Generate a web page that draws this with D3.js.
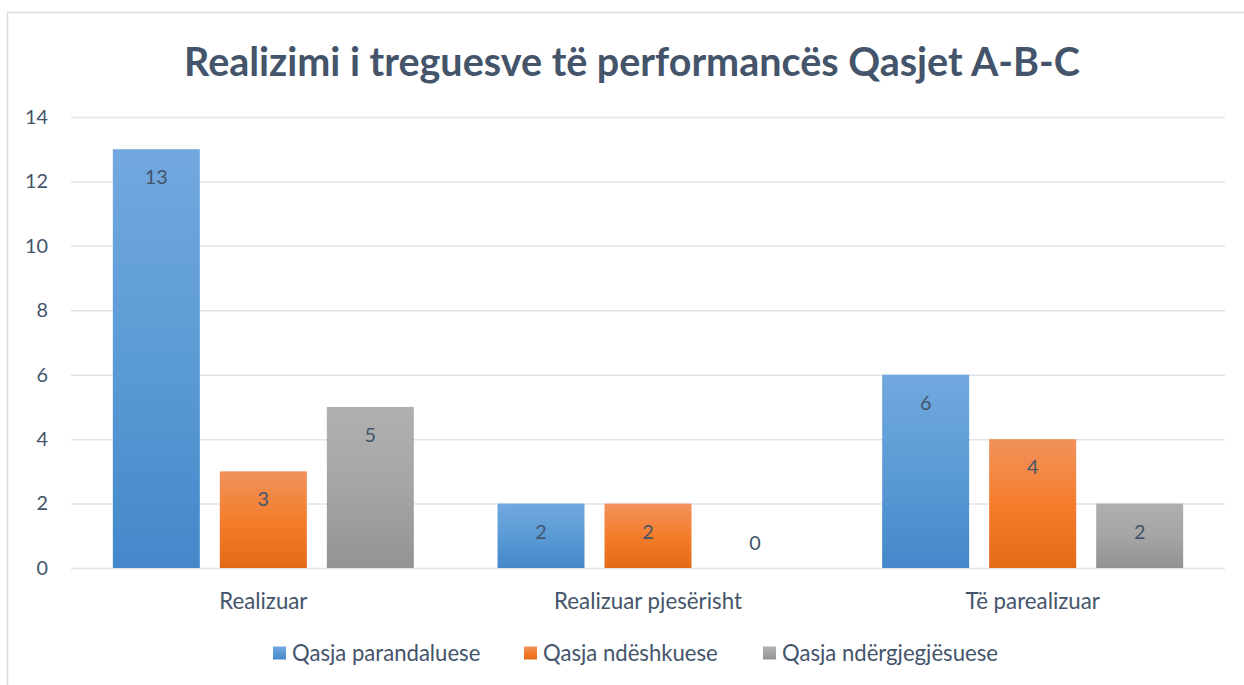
<!DOCTYPE html>
<html>
<head>
<meta charset="utf-8">
<script src="https://cdn.jsdelivr.net/npm/d3@7"></script>
<style>
    body{ margin:0; background:#fff; }
    text{ font-family: Lato, "Open Sans", sans-serif; fill:#44546A; }
</style>
</head>
<body>
<svg id="chart" width="1244" height="685"></svg>
<script>
const title = 'Realizimi i treguesve të performancës Qasjet A-B-C';
const categories = ['Realizuar', 'Realizuar pjesërisht', 'Të parealizuar'];
const seriesNames = ['Qasja parandaluese', 'Qasja ndëshkuese', 'Qasja ndërgjegjësuese'];
const parandaluese = [13, 2, 6];
const ndeshkuese = [3, 2, 4];
const ndergjegjesuese = [5, 0, 2];
const yTicks = [0, 2, 4, 6, 8, 10, 12, 14];

const seriesValues = [parandaluese, ndeshkuese, ndergjegjesuese];
const gradients = [
    ['#72A8DF', '#5B9BD5', '#4488CA'],
    ['#F1925C', '#F47D2C', '#E46B16'],
    ['#B0B0B0', '#A5A5A5', '#939393']
];

const svg = d3.select('#chart');
const margin = {l: 71, r: 19, t: 117, b: 117};
const size = {w: 1244, h: 685};
const chartSize = {w: size.w - margin.l - margin.r, h: size.h - margin.t - margin.b};

//fit font size so a reference string has the target width
function fitSize(str, weight, target){
    let t = svg.append('text').style('font-size', '100px').style('font-weight', weight).text(str);
    let w = t.node().getComputedTextLength();
    t.remove();
    return 100 * target / w;
}

//chart border
svg.append('rect')
    .attr('x', 7.5).attr('y', 12.5)
    .attr('width', 1300).attr('height', 700)
    .attr('fill', 'none')
    .attr('stroke', '#D9DDE3')
    .attr('stroke-width', 1.5);

//gradients
let defs = svg.append('defs');
gradients.forEach((g, i) => {
    let lg = defs.append('linearGradient')
        .attr('id', 'grad' + i)
        .attr('x1', 0).attr('y1', 0).attr('x2', 0).attr('y2', 1);
    lg.append('stop').attr('offset', '0%').attr('stop-color', g[0]);
    lg.append('stop').attr('offset', '50%').attr('stop-color', g[1]);
    lg.append('stop').attr('offset', '100%').attr('stop-color', g[2]);
});

//title
svg.append('text')
    .attr('x', 632)
    .attr('y', 76)
    .style('text-anchor', 'middle')
    .style('font-weight', '700')
    .style('font-size', fitSize(title, 700, 896) + 'px')
    .text(title);

let g = svg.append('g').attr('transform', `translate(${margin.l}, ${margin.t})`);

//scales
let scaleX = d3.scaleBand()
    .domain(categories)
    .range([0, chartSize.w]);

let scaleSeries = d3.scaleBand()
    .domain(d3.range(seriesNames.length))
    .range([0, scaleX.bandwidth()])
    .paddingInner(0.187)
    .paddingOuter(0.391);

let scaleY = d3.scaleLinear()
    .domain([0, 14])
    .range([chartSize.h, 0]);

//grid + y axis
let tickSize = fitSize('14', 400, 23);
let axisY = d3.axisLeft(scaleY).tickValues(yTicks).tickSize(-chartSize.w).tickPadding(23);
let axisG = g.append('g').call(axisY);
axisG.select('.domain').remove();
axisG.selectAll('line').attr('stroke', '#E0E3E8').attr('stroke-width', 1.5);
axisG.selectAll('text')
    .style('font-size', tickSize + 'px')
    .style('font-family', 'Lato, sans-serif')
    .attr('fill', '#44546A');

//bars
let rows = [];
categories.forEach((c, ci) => {
    seriesValues.forEach((vals, si) => rows.push({cat: c, s: si, v: vals[ci]}));
});

g.selectAll('rect.bar')
    .data(rows)
    .join('rect')
    .attr('class', 'bar')
    .attr('x', d => scaleX(d.cat) + scaleSeries(d.s))
    .attr('y', d => scaleY(d.v))
    .attr('width', scaleSeries.bandwidth())
    .attr('height', d => chartSize.h - scaleY(d.v))
    .attr('fill', d => `url(#grad${d.s})`);

//value labels
let valueSize = fitSize('13', 400, 23);
g.selectAll('text.value')
    .data(rows)
    .join('text')
    .attr('class', 'value')
    .attr('x', d => scaleX(d.cat) + scaleSeries(d.s) + scaleSeries.bandwidth() / 2)
    .attr('y', d => d.v > 0 ? scaleY(d.v) + 28 : scaleY(0) - 25)
    .attr('dy', '0.35em')
    .style('text-anchor', 'middle')
    .style('font-size', valueSize + 'px')
    .text(d => d.v);

//category labels
let catSize = fitSize('Realizuar pjesërisht', 400, 188);
g.selectAll('text.cat')
    .data(categories)
    .join('text')
    .attr('class', 'cat')
    .attr('x', d => scaleX(d) + scaleX.bandwidth() / 2)
    .attr('y', chartSize.h + 33)
    .attr('dy', '0.35em')
    .style('text-anchor', 'middle')
    .style('font-size', catSize + 'px')
    .text(d => d);

//legend
let legendSize = fitSize('Qasja ndërgjegjësuese', 400, 216);
let legendX = [273, 524, 763];
let legend = svg.selectAll('g.legend')
    .data(seriesNames)
    .join('g')
    .attr('class', 'legend')
    .attr('transform', (d, i) => `translate(${legendX[i]}, 653)`);

legend.append('rect')
    .attr('x', 0).attr('y', -6.5)
    .attr('width', 13).attr('height', 13)
    .attr('fill', (d, i) => `url(#grad${i})`);

legend.append('text')
    .attr('x', 19)
    .attr('dy', '0.35em')
    .style('font-size', legendSize + 'px')
    .text(d => d);
</script>
</body>
</html>
